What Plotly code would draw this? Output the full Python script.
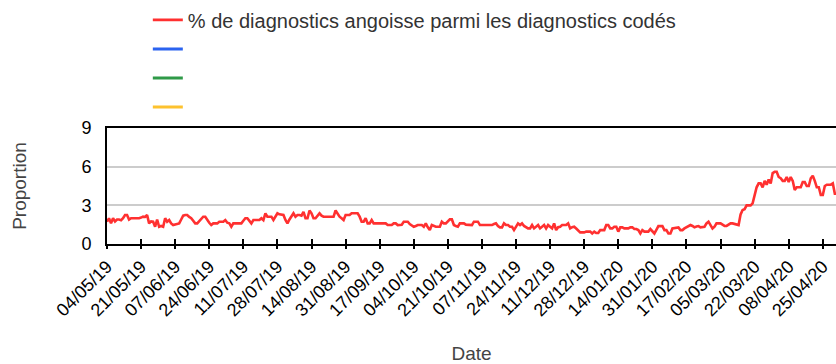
import pandas as pd
import plotly.graph_objects as go

# Daily share of anxiety diagnoses among coded diagnoses (%), from 04/05/2019
start_date = "2019-05-04"
anxiety_share = [
    1.73, 1.99, 1.6, 2.0, 1.75, 1.9, 1.9, 1.85, 2.0, 2.25,
    2.25, 1.9, 2.0, 2.0, 2.0, 1.95, 2.0, 2.05, 2.12, 2.1,
    2.25, 1.6, 1.75, 1.73, 1.34, 1.9, 1.34, 1.4, 1.34, 2.0,
    1.73, 1.86, 1.6, 1.47, 1.5, 1.55, 1.6, 1.9, 2.2, 2.25,
    2.25, 2.1, 2.0, 1.8, 1.6, 1.6, 1.8, 2.0, 2.12, 2.12,
    1.86, 1.65, 1.47, 1.6, 1.6, 1.6, 1.73, 1.73, 1.73, 1.86,
    1.65, 1.6, 1.34, 1.6, 1.6, 1.6, 1.65, 1.6, 1.8, 2.0,
    2.0, 1.8, 1.6, 1.86, 1.86, 1.9, 1.86, 2.0, 1.86, 2.38,
    2.12, 2.12, 2.12, 1.86, 2.12, 2.38, 2.3, 2.25, 2.25, 1.86,
    1.6, 1.9, 2.12, 2.38, 2.12, 2.25, 2.25, 2.2, 2.5, 2.0,
    2.0, 2.6, 2.38, 2.0, 2.0, 2.2, 2.38, 2.2, 2.12, 2.12,
    2.12, 2.12, 2.1, 2.12, 2.6, 2.3, 2.12, 2.0, 1.86, 2.25,
    2.25, 2.25, 2.38, 2.38, 2.38, 2.38, 2.12, 1.73, 1.73, 2.0,
    1.6, 1.6, 1.86, 1.6, 1.6, 1.6, 1.55, 1.6, 1.6, 1.6,
    1.47, 1.47, 1.47, 1.6, 1.6, 1.47, 1.47, 1.5, 1.73, 1.73,
    1.73, 1.55, 1.47, 1.34, 1.4, 1.47, 1.47, 1.47, 1.34, 1.6,
    1.3, 1.08, 1.47, 1.4, 1.34, 1.34, 1.34, 1.73, 1.6, 1.6,
    1.73, 1.91, 1.91, 1.47, 1.4, 1.34, 1.6, 1.6, 1.6, 1.5,
    1.47, 1.47, 1.47, 1.73, 1.73, 1.73, 1.47, 1.47, 1.47, 1.47,
    1.47, 1.47, 1.47, 1.55, 1.6, 1.4, 1.29, 1.29, 1.6, 1.47,
    1.47, 1.34, 1.34, 1.08, 1.3, 1.6, 1.47, 1.6, 1.4, 1.3,
    1.21, 1.21, 1.47, 1.21, 1.34, 1.47, 1.21, 1.34, 1.47, 1.21,
    1.47, 1.34, 1.21, 1.6, 1.08, 1.3, 1.34, 1.47, 1.47, 1.47,
    1.6, 1.21, 1.3, 1.34, 1.2, 1.08, 0.9, 0.9, 0.9, 0.96,
    0.96, 0.96, 0.82, 0.96, 0.85, 0.85, 1.08, 1.08, 1.08, 1.47,
    1.47, 1.21, 1.21, 1.34, 1.34, 0.96, 1.29, 1.29, 1.21, 1.21,
    1.21, 1.29, 1.29, 1.16, 1.16, 1.08, 0.82, 1.08, 0.96, 0.96,
    0.96, 1.16, 0.96, 0.82, 1.1, 1.39, 1.39, 1.39, 1.08, 1.08,
    0.82, 0.82, 1.21, 1.25, 1.29, 1.29, 1.08, 1.08, 1.21, 1.3,
    1.34, 1.47, 1.4, 1.29, 1.35, 1.39, 1.29, 1.3, 1.34, 1.6,
    1.73, 1.47, 1.2, 1.34, 1.6, 1.6, 1.6, 1.5, 1.4, 1.4,
    1.5, 1.6, 1.6, 1.55, 1.47, 1.47, 2.3, 2.64, 2.7, 3.0,
    3.0, 3.0, 3.15, 3.9, 4.4, 4.7, 4.7, 4.4, 4.9, 4.6,
    5.0, 4.7, 5.5, 5.6, 5.6, 5.2, 5.1, 4.9, 4.9, 5.2,
    4.8, 5.2, 4.9, 4.2, 4.4, 4.4, 4.4, 4.8, 4.8, 4.5,
    4.5, 5.1, 5.3, 4.9, 4.4, 4.4, 3.8, 3.8, 4.5, 4.6,
    4.6, 4.6, 4.7, 3.9, 3.9,
]
dates = pd.date_range(start_date, periods=len(anxiety_share), freq="D")

series_names = ["% de diagnostics angoisse parmi les diagnostics codés", " ", "  ", "   "]
series_colors = ["#ff3030", "#2b63f0", "#2f9a48", "#fdc22e"]

y_ticks = [0, 3, 6, 9]
x_title = "Date"
y_title = "Proportion"

FONT = "Liberation Sans, Arial, sans-serif"

fig = go.Figure()
fig.add_trace(go.Scatter(
    x=dates, y=anxiety_share, mode="lines", name=series_names[0],
    line=dict(color=series_colors[0], width=2.6), legendgroup="g0",
))
for i in range(1, 4):
    fig.add_trace(go.Scatter(
        x=[None], y=[None], mode="lines", name=series_names[i],
        line=dict(color=series_colors[i], width=3), legendgroup=f"g{i}",
    ))
# second x axis only carries the upper half of the crossing tick marks
fig.add_trace(go.Scatter(x=[dates[0]], y=[None], xaxis="x2", showlegend=False, hoverinfo="skip"))

tick_step = 17 * 86400000
x_range = [dates[0], pd.Timestamp("2020-05-01 14:00")]

fig.update_layout(
    width=836, height=364,
    margin=dict(l=107, r=0, t=128, b=120, autoexpand=False),
    paper_bgcolor="white", plot_bgcolor="white",
    font=dict(family=FONT, size=18, color="#000000"),
    showlegend=True,
    legend=dict(
        x=0.056, y=2.10, xanchor="left", yanchor="top",
        font=dict(size=20, color="#333333"),
        traceorder="grouped", tracegroupgap=0,
        bgcolor="rgba(0,0,0,0)", itemwidth=30,
    ),
    xaxis=dict(
        type="date", range=x_range,
        tick0=dates[0], dtick=tick_step, tickformat="%d/%m/%y",
        tickangle=-45, ticks="outside", ticklen=3, tickwidth=2, tickcolor="#000",
        showline=True, linecolor="#000", linewidth=2, mirror=True,
        showgrid=False, zeroline=False,
        tickfont=dict(size=18, color="#000"),
        title=dict(text=x_title, font=dict(size=19, color="#444444"), standoff=34),
        automargin=False,
    ),
    xaxis2=dict(
        type="date", overlaying="x", matches="x", anchor="y", side="bottom",
        tick0=dates[0], dtick=tick_step,
        ticks="inside", ticklen=5, tickwidth=2, tickcolor="#000",
        showticklabels=False, showline=False, showgrid=False, zeroline=False,
    ),
    yaxis=dict(
        range=[0, 9], tickvals=y_ticks, ticks="",
        showline=True, linecolor="#000", linewidth=2,
        showgrid=True, gridcolor="#cccccc", gridwidth=2, zeroline=False,
        tickfont=dict(size=18, color="#000"), ticklabelstandoff=10,
        title=dict(text=y_title, font=dict(size=19, color="#444444"), standoff=50),
        automargin=False,
    ),
)

fig.write_html("out.html")
